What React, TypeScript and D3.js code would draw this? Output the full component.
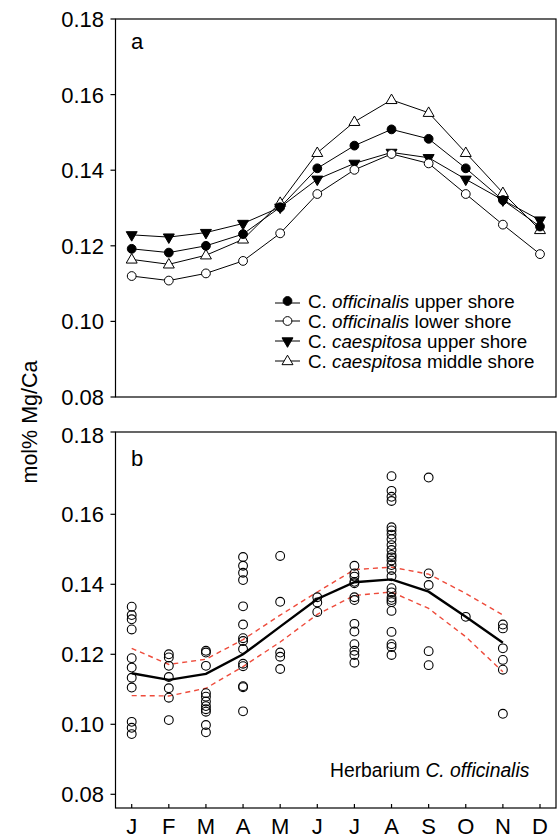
import React from "react";
import * as d3 from "d3";

const months = ["J", "F", "M", "A", "M", "J", "J", "A", "S", "O", "N", "D"];

// Panel a series (Jan..Dec)
const offUpper = [0.1192, 0.1182, 0.12, 0.1231, 0.1302, 0.1405, 0.1465, 0.1508, 0.1483, 0.1405, 0.1321, 0.1251];
const offLower = [0.112, 0.1108, 0.1127, 0.116, 0.1233, 0.1337, 0.1401, 0.1443, 0.1418, 0.1337, 0.1256, 0.1178];
const caeUpper = [0.1229, 0.1223, 0.1235, 0.1259, 0.1302, 0.1376, 0.1418, 0.1447, 0.1433, 0.1376, 0.1321, 0.1268];
const caeMiddle = [0.1164, 0.1151, 0.1175, 0.1217, 0.1314, 0.1446, 0.1528, 0.1586, 0.1552, 0.1446, 0.134, 0.1242];

const legendLabels = [
  ["C. ", "officinalis", " upper shore"],
  ["C. ", "officinalis", " lower shore"],
  ["C. ", "caespitosa", " upper shore"],
  ["C. ", "caespitosa", " middle shore"],
];

// Panel b herbarium samples per month
const herbJan = [0.1336, 0.1312, 0.13, 0.1271, 0.1189, 0.1162, 0.1133, 0.1105, 0.1007, 0.099, 0.0972];
const herbFeb = [0.12, 0.1191, 0.1167, 0.1135, 0.1103, 0.1076, 0.1012];
const herbMar = [0.121, 0.1205, 0.1167, 0.1089, 0.1079, 0.1065, 0.1052, 0.1043, 0.1036, 0.0998, 0.0977];
const herbApr = [0.1478, 0.1453, 0.1433, 0.1412, 0.1337, 0.1285, 0.1246, 0.1238, 0.1215, 0.1173, 0.1166, 0.1109, 0.1106, 0.1037];
const herbMay = [0.1481, 0.135, 0.1205, 0.1193, 0.1158];
const herbJun = [0.1363, 0.1348, 0.1321];
const herbJul = [0.1453, 0.1431, 0.1422, 0.1407, 0.1403, 0.1363, 0.1355, 0.1287, 0.1265, 0.1229, 0.121, 0.1198, 0.1176];
const herbAug = [0.1709, 0.1667, 0.165, 0.1638, 0.1563, 0.1554, 0.1542, 0.1529, 0.1512, 0.1498, 0.1484, 0.1477, 0.1468, 0.1455, 0.1441, 0.1423, 0.1389, 0.1377, 0.1362, 0.1355, 0.1349, 0.1324, 0.1264, 0.1229, 0.1221, 0.1198];
const herbSep = [0.1705, 0.1431, 0.1398, 0.1209, 0.1169];
const herbOct = [0.1307];
const herbNov = [0.1285, 0.1274, 0.1217, 0.1184, 0.1156, 0.103];
const herbDec: number[] = [];

// Fitted mean and confidence band (Jan..Nov)
const fitMean = [0.1146, 0.1127, 0.1144, 0.12, 0.1279, 0.1358, 0.1406, 0.1414, 0.1379, 0.1307, 0.1233];
const fitUpper = [0.1217, 0.1171, 0.1186, 0.1242, 0.1312, 0.1378, 0.1442, 0.1449, 0.1429, 0.1374, 0.1312];
const fitLower = [0.1082, 0.1081, 0.1103, 0.1165, 0.1235, 0.1314, 0.1368, 0.1378, 0.1331, 0.125, 0.115];

const yTicksA = [0.08, 0.1, 0.12, 0.14, 0.16, 0.18];
const yTicksB = [0.08, 0.1, 0.12, 0.14, 0.16];
const topLabelB = "0.18";

const FONT = "'Liberation Sans', Arial, Helvetica, sans-serif";

export default function App() {
  const W = 559, H = 839;
  const left = 115.5, right = 556;
  const aTop = 19, aBottom = 397;
  const bTop = 432, bBottom = 808;

  const x = d3.scaleLinear().domain([0, 11]).range([131.7, 540]);
  const yA = d3.scaleLinear().domain([0.08, 0.18]).range([aBottom, aTop]);
  const yB = d3.scaleLinear().domain([0.08, 0.16]).range([794.3, 514.3]);

  const lineA = d3.line<number>().x((_, i) => x(i)).y((d) => yA(d));
  const lineB = d3.line<number>().x((_, i) => x(i)).y((d) => yB(d));

  const triUp = d3.symbol(d3.symbolTriangle, 52)()!;
  const herb = [herbJan, herbFeb, herbMar, herbApr, herbMay, herbJun, herbJul, herbAug, herbSep, herbOct, herbNov, herbDec];

  const marker = (k: number, cx: number, cy: number, key: string) => {
    if (k === 0) return <circle key={key} cx={cx} cy={cy} r={4.4} fill="#000" stroke="#000" strokeWidth={1} />;
    if (k === 1) return <circle key={key} cx={cx} cy={cy} r={4.4} fill="#fff" stroke="#000" strokeWidth={1} />;
    if (k === 2) return <path key={key} d={triUp} transform={`translate(${cx},${cy}) rotate(180)`} fill="#000" stroke="#000" strokeWidth={1} />;
    return <path key={key} d={triUp} transform={`translate(${cx},${cy + 0.5})`} fill="#fff" stroke="#000" strokeWidth={1} />;
  };

  const seriesA = [offUpper, offLower, caeUpper, caeMiddle];
  const drawOrder = [3, 0, 2, 1];

  return (
    <svg width={W} height={H} style={{ position: "absolute", left: 0, top: 0, background: "#fff" }} fontFamily={FONT}>
      <rect x={0} y={0} width={W} height={H} fill="#fff" />
      {/* Y title */}
      <text transform={`translate(37,422) rotate(-90)`} textAnchor="middle" fontSize={21.5} fill="#000">mol% Mg/Ca</text>

      {/* Panel a */}
      <rect x={left} y={aTop} width={right - left} height={aBottom - aTop} fill="none" stroke="#000" strokeWidth={1.2} />
      {yTicksA.map((t) => (
        <g key={"ta" + t}>
          <line x1={left - 5} x2={left} y1={yA(t)} y2={yA(t)} stroke="#000" strokeWidth={1.2} />
          <text x={104} y={yA(t)} dy="0.36em" textAnchor="end" fontSize={22} fill="#000">{t.toFixed(2)}</text>
        </g>
      ))}
      <text x={131} y={49} fontSize={22} fill="#000">a</text>
      {drawOrder.map((k) => (
        <path key={"la" + k} d={lineA(seriesA[k])!} fill="none" stroke="#000" strokeWidth={1} />
      ))}
      {drawOrder.map((k) => seriesA[k].map((v, i) => marker(k, x(i), yA(v), `m${k}-${i}`)))}
      {legendLabels.map((lab, k) => {
        const cy = 301 + k * 20;
        return (
          <g key={"lg" + k}>
            <line x1={275} x2={300} y1={cy + (k === 0 ? 2 : 0)} y2={cy + (k === 0 ? 2 : 0)} stroke="#000" strokeWidth={1} />
            {marker(k, 287.5, cy, "lgm" + k)}
            <text x={308} y={cy} dy="0.36em" fontSize={18.8} fill="#000">
              {lab[0]}
              <tspan fontStyle="italic">{lab[1]}</tspan>
              {lab[2]}
            </text>
          </g>
        );
      })}

      {/* Panel b */}
      <rect x={left} y={bTop} width={right - left} height={bBottom - bTop} fill="none" stroke="#000" strokeWidth={1.2} />
      {yTicksB.map((t) => (
        <g key={"tb" + t}>
          <line x1={left - 5} x2={left} y1={yB(t)} y2={yB(t)} stroke="#000" strokeWidth={1.2} />
          <text x={104} y={yB(t)} dy="0.36em" textAnchor="end" fontSize={22} fill="#000">{t.toFixed(2)}</text>
        </g>
      ))}
      <line x1={left - 5} x2={left} y1={bTop} y2={bTop} stroke="#000" strokeWidth={1.2} />
      <text x={104} y={bTop + 3} dy="0.36em" textAnchor="end" fontSize={22} fill="#000">{topLabelB}</text>
      {months.map((m, i) => (
        <g key={"xm" + i}>
          <line x1={x(i)} x2={x(i)} y1={bBottom} y2={bBottom - 4} stroke="#000" strokeWidth={1.2} />
          <text x={x(i)} y={834} textAnchor="middle" fontSize={22} fill="#000">{m}</text>
        </g>
      ))}
      <text x={131} y={466} fontSize={22} fill="#000">b</text>
      <path d={lineB(fitUpper)!} fill="none" stroke="#ee4b3b" strokeWidth={1.4} strokeDasharray="5,4" />
      <path d={lineB(fitLower)!} fill="none" stroke="#ee4b3b" strokeWidth={1.4} strokeDasharray="5,4" />
      <path d={lineB(fitMean)!} fill="none" stroke="#000" strokeWidth={2.4} />
      {herb.map((arr, i) =>
        arr.map((v, j) => (
          <circle key={`h${i}-${j}`} cx={x(i)} cy={yB(v)} r={4.4} fill="none" stroke="#000" strokeWidth={1.1} />
        ))
      )}
      <text x={330} y={777} fontSize={19.3} fill="#000">
        Herbarium <tspan fontStyle="italic">C. officinalis</tspan>
      </text>
    </svg>
  );
}
